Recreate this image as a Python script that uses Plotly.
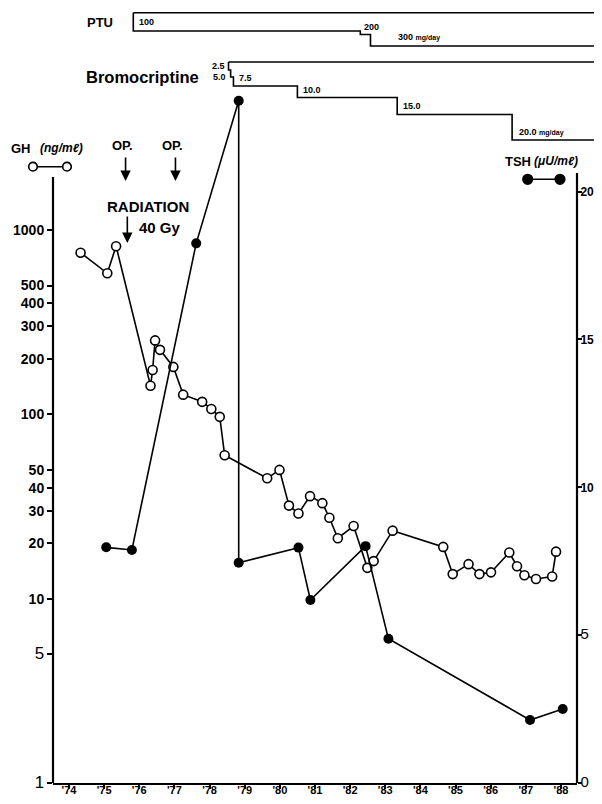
import plotly.graph_objects as go

# ---------------- data ----------------
gh_year = [74.33, 75.09, 75.34, 76.32, 76.38, 76.45, 76.59, 76.97, 77.25, 77.79,
           78.05, 78.29, 78.43, 79.64, 79.99, 80.26, 80.53, 80.86, 81.21, 81.41,
           81.65, 82.10, 82.49, 82.67, 83.21, 84.65, 84.92, 85.37, 85.68, 86.01,
           86.53, 86.75, 86.96, 87.29, 87.75, 87.86]
gh_value = [754, 583, 818, 143, 174, 252, 224, 181, 128, 117,
            107, 97, 60, 45, 50, 32, 29, 36, 33, 27.5,
            21.3, 24.8, 14.7, 16.0, 23.4, 19.1, 13.6, 15.4, 13.6, 13.9,
            17.8, 15.0, 13.4, 12.8, 13.2, 18.0]

tsh_year = [75.06, 75.79, 77.62, 78.83, 78.83, 80.53, 80.87, 82.44, 83.09, 87.12, 88.05]
tsh_value = [7.97, 7.88, 18.25, 23.07, 7.45, 7.96, 6.19, 8.01, 4.88, 2.13, 2.50]

year_ticks = list(range(74, 89))
year_labels = ["'%d" % y for y in year_ticks]
gh_ticks = [1, 5, 10, 20, 30, 40, 50, 100, 200, 300, 400, 500, 1000]
gh_tick_labels = ["1", "5", "10", "20", "30", "40", "50", "100", "200", "300", "400", "500", "1000"]
tsh_ticks = [0, 5, 10, 15, 20]
tsh_tick_labels = ["0", "5", "10", "15", "20"]

ptu_start = [75.83, 82.29, 82.58]
ptu_labels = ["100", "200", "300 <span style='font-size:7px'>mg/day</span>"]
bromo_start = [78.54, 78.60, 78.68, 80.50, 83.34, 86.61]
bromo_labels = ["2.5", "5.0", "7.5", "10.0", "15.0",
                "20.0 <span style='font-size:7px'>mg/day</span>"]

op_years = [75.61, 77.03]
radiation_year = 75.66

# ---------------- layout geometry ----------------
OFF = 8                              # page body margin of the browser
W, H = 602 - 2 * OFF, 804 - 2 * OFF  # figure size, no page overflow
ML = 53 - OFF                        # left axis at page x = 53
PLOT_BOTTOM = 783 - OFF              # bottom axis at page y = 783
PLOT_TOP = 90 - OFF
MT = PLOT_TOP
MB = H - PLOT_BOTTOM
PLOT_W = W - ML
PLOT_H = H - MT - MB
AX_W = 577 - 53                      # main x axis length in px
PPY = 35.14                          # px per year
XMIN = 73.545
XMAX = XMIN + AX_W / PPY
LOG_PPD = 184.3
TSH_PPU = 29.57
FONT = "Liberation Sans, Arial, sans-serif"
LINE_END_PX = 594                    # the schedule lines run to the page edge


def px(x):
    """page x (reference pixels) -> paper x"""
    return (x - OFF - ML) / PLOT_W


def py(y):
    """page y (reference pixels) -> paper y"""
    return (PLOT_BOTTOM - (y - OFF)) / PLOT_H


def yr(year):
    """calendar year -> paper x, same scale as the x axis"""
    return px(53 + (year - XMIN) * PPY)


def style_ticks(labels, big, size):
    # the single-digit labels are printed in a larger, lighter face
    return ["<span style='font-size:%dpx;font-weight:normal'>%s</span>" % (size, t)
            if t in big else t for t in labels]


fig = go.Figure()

fig.add_trace(go.Scatter(
    x=tsh_year, y=tsh_value, xaxis="x", yaxis="y2", mode="lines+markers",
    line=dict(color="black", width=1.6),
    marker=dict(symbol="circle", size=10, color="black"),
    cliponaxis=False, showlegend=False))

fig.add_trace(go.Scatter(
    x=gh_year, y=gh_value, xaxis="x", yaxis="y", mode="lines+markers",
    line=dict(color="black", width=1.6),
    marker=dict(symbol="circle", size=9, color="white",
                line=dict(color="black", width=1.6)),
    cliponaxis=False, showlegend=False))

shapes = []
# axis lines
shapes.append(dict(type="line", xref="paper", yref="paper", x0=0, x1=0,
                   y0=0, y1=py(177), line=dict(color="black", width=2.2)))
shapes.append(dict(type="line", xref="paper", yref="paper",
                   x0=AX_W / PLOT_W, x1=AX_W / PLOT_W,
                   y0=0, y1=py(173), line=dict(color="black", width=2.2)))


def path(points):
    return "M " + " L ".join("%.5f,%.5f" % p for p in points)


def schedule(starts, top, levels):
    out = [dict(type="path", xref="paper", yref="paper",
                path=path([(yr(starts[0]), py(top)), (px(LINE_END_PX), py(top))]),
                line=dict(color="black", width=1.6))]
    pts = [(yr(starts[0]), py(top))]
    for i, s in enumerate(starts):
        if i > 0:
            pts.append((yr(s), py(levels[i - 1])))
        pts.append((yr(s), py(levels[i])))
    pts.append((px(LINE_END_PX), py(levels[-1])))
    out.append(dict(type="path", xref="paper", yref="paper", path=path(pts),
                    line=dict(color="black", width=1.6)))
    return out


shapes += schedule(ptu_start, 12.7, [31, 34.5, 46])
shapes += schedule(bromo_start, 62, [70, 77, 86, 97.5, 114.5, 140])


# legend glyphs
def legend_glyph(x0, x1, yc, r, fill):
    out = [dict(type="line", xref="paper", yref="paper", x0=px(x0), x1=px(x1),
                y0=py(yc), y1=py(yc), line=dict(color="black", width=1.6))]
    for xc in (x0, x1):
        out.append(dict(type="circle", xref="paper", yref="paper",
                        x0=px(xc - r), x1=px(xc + r), y0=py(yc + r), y1=py(yc - r),
                        fillcolor=fill, line=dict(color="black", width=1.6)))
    return out


shapes += legend_glyph(33, 67, 166.7, 4.3, "white")
shapes += legend_glyph(527.7, 560, 179.3, 4.8, "black")

ann = []


def text(x, y, s, size, xanchor="center", yanchor="middle",
         xshift=0, bold=True, italic=False):
    ann.append(dict(x=x, y=y, xref="paper", yref="paper", text=s, showarrow=False,
                    xanchor=xanchor, yanchor=yanchor, xshift=xshift,
                    font=dict(family=FONT, size=size, color="black",
                              weight="bold" if bold else "normal",
                              style="italic" if italic else "normal")))


text(px(85), py(22.5), "PTU", 13, xanchor="left")
text(px(84), py(77), "Bromocriptine", 16.5, xanchor="left")

text(yr(ptu_start[0]), py(22), ptu_labels[0], 9, xanchor="left", xshift=4)
text(yr(ptu_start[1]), py(34), ptu_labels[1], 9, xanchor="left", yanchor="bottom", xshift=2)
text(yr(ptu_start[2]), py(44), ptu_labels[2], 9, xanchor="left", yanchor="bottom", xshift=26)

text(yr(bromo_start[0]), py(65.5), bromo_labels[0], 9, xanchor="right", xshift=-2)
text(yr(bromo_start[0]), py(76.5), bromo_labels[1], 9, xanchor="right", xshift=-1)
text(yr(bromo_start[2]), py(85), bromo_labels[2], 9, xanchor="left", yanchor="bottom", xshift=4)
text(yr(bromo_start[3]), py(96.5), bromo_labels[3], 9, xanchor="left", yanchor="bottom", xshift=4)
text(yr(bromo_start[4]), py(113.5), bromo_labels[4], 9, xanchor="left", yanchor="bottom", xshift=4)
text(yr(bromo_start[5]), py(138.5), bromo_labels[5], 9, xanchor="left", yanchor="bottom", xshift=5)

text(px(9), py(148), "GH", 13, xanchor="left")
text(px(38), py(148), "(ng/mℓ)", 12, xanchor="left", italic=True)
text(px(503), py(161), "TSH", 13, xanchor="left")
text(px(532), py(161), "(μU/mℓ)", 12, xanchor="left", italic=True)

for y_ in op_years:
    text(yr(y_), py(145), "OP.", 13, xshift=-3)
text(px(148), py(206), "RADIATION", 15)
text(px(137), py(227), "40 Gy", 15, xanchor="left")

for y_, (y_tip, length) in zip(op_years + [radiation_year],
                               [(181, 25), (181, 25), (243, 28)]):
    ann.append(dict(x=y_, y=py(y_tip), xref="x", yref="paper", text="",
                    showarrow=True, ax=0, ay=-length, arrowhead=2, arrowsize=1.3,
                    arrowwidth=1.6, arrowcolor="black"))

fig.update_layout(
    width=W, height=H, paper_bgcolor="white", plot_bgcolor="white",
    margin=dict(l=ML, r=0, t=MT, b=MB, autoexpand=False),
    shapes=shapes, annotations=ann, showlegend=False,
    xaxis=dict(domain=[0, AX_W / PLOT_W], range=[XMIN, XMAX], anchor="y",
               tickvals=year_ticks, ticktext=year_labels, ticks="outside",
               ticklen=4, tickwidth=1.6, tickcolor="black", showline=True,
               linewidth=2.2, linecolor="black", showgrid=False, zeroline=False,
               ticklabeloverflow="allow", ticklabelstandoff=-8,
               tickfont=dict(family=FONT, size=11, color="black", weight="bold")),
    yaxis=dict(type="log", range=[0, PLOT_H / LOG_PPD], anchor="x",
               tickvals=gh_ticks,
               ticktext=style_ticks(gh_tick_labels, {"1", "5"}, 17),
               ticks="outside",
               ticklen=5, tickwidth=1.6, tickcolor="black", showline=False,
               showgrid=False, zeroline=False, ticklabeloverflow="allow",
               tickfont=dict(family=FONT, size=14, color="black", weight="bold")),
    yaxis2=dict(range=[0, PLOT_H / TSH_PPU], overlaying="y", side="right",
                anchor="x", tickvals=tsh_ticks,
                ticktext=style_ticks(tsh_tick_labels, {"0", "5"}, 15),
                ticks="outside", ticklen=4, tickwidth=1.6, tickcolor="black",
                showline=False, showgrid=False, zeroline=False,
                ticklabeloverflow="allow", ticklabelstandoff=-4,
                tickfont=dict(family=FONT, size=12, color="black", weight="bold")),
)

fig.write_html("out.html")
